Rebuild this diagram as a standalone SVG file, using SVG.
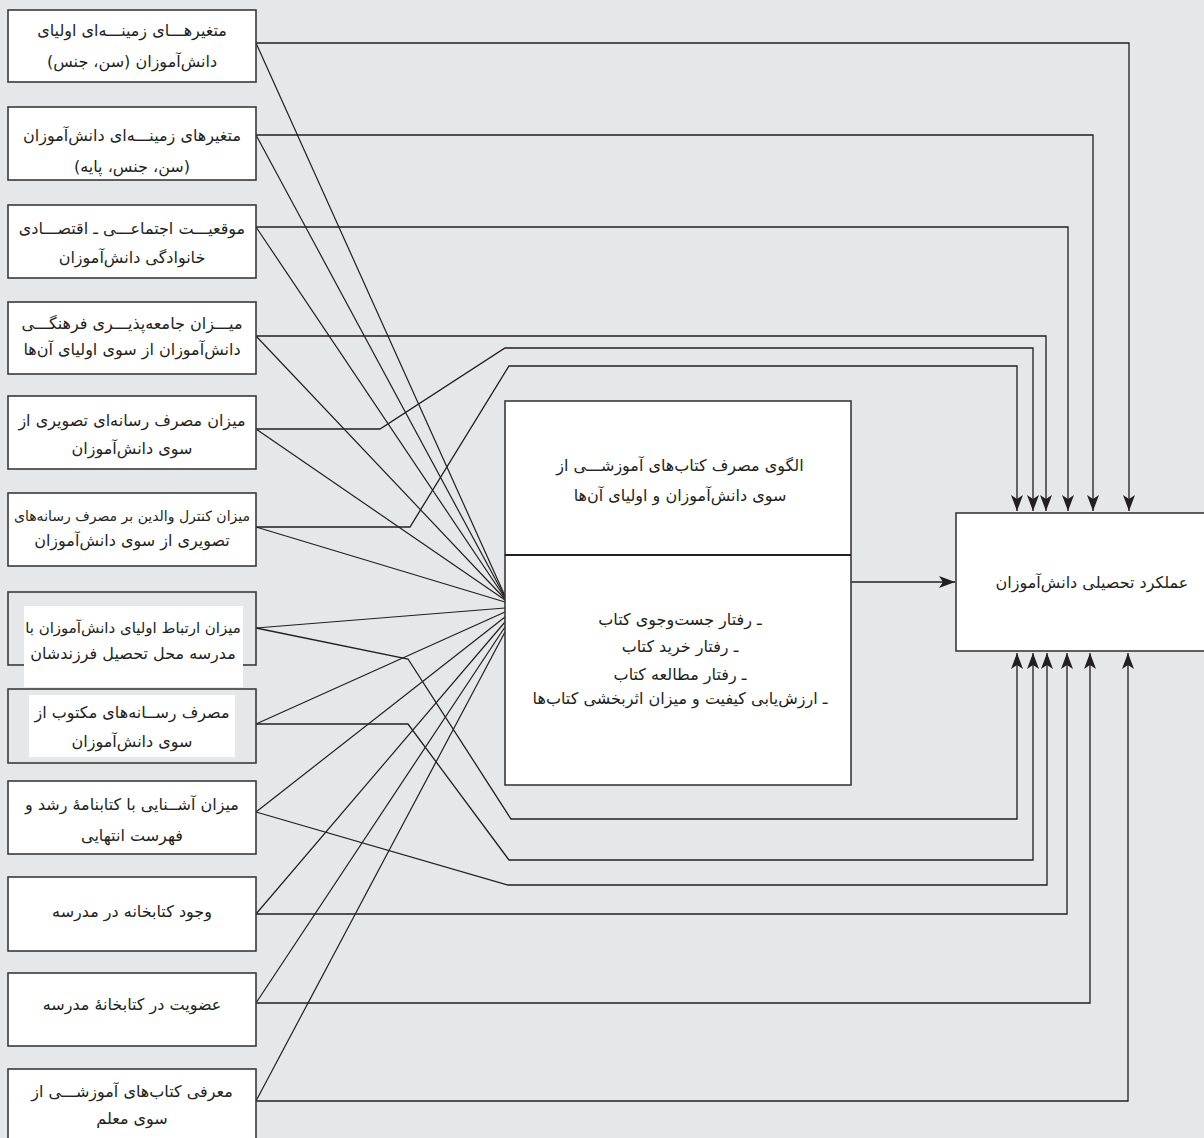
<svg xmlns="http://www.w3.org/2000/svg" width="1204" height="1138" viewBox="0 0 1204 1138">
<style>
.box{fill:#fff;stroke:#3a3a3a;stroke-width:1.6}
.boxg{fill:#e6e7e8;stroke:#3a3a3a;stroke-width:1.6}
.tb{fill:#fff;stroke:none}
.t{font-family:"DejaVu Sans",sans-serif;font-size:16px;fill:#231f20;text-anchor:middle;direction:rtl}
.s15{font-size:15px}
.s14{font-size:14px}
.c{fill:none;stroke:#231f20;stroke-width:1.2}
.a{fill:none;stroke:#231f20;stroke-width:1.3}
</style>
<defs>
<marker id="ah" viewBox="0 0 16 12" refX="16" refY="6" markerWidth="16" markerHeight="12" markerUnits="userSpaceOnUse" orient="auto">
<path d="M0,0 L16,6 L0,12 L4,6 z" fill="#231f20"/>
</marker>
</defs>
<rect x="0" y="0" width="1204" height="1138" fill="#e6e7e8"/>

<g id="connectors">
<path class="c" d="M256,43 L505,596"/>
<path class="c" d="M256,135 L505,597"/>
<path class="c" d="M256,227 L505,598"/>
<path class="c" d="M256,336 L505,599"/>
<path class="c" d="M256,429 L505,600"/>
<path class="c" d="M256,527 L505,602"/>
<path class="c" d="M256,628 L505,608"/>
<path class="c" d="M256,724 L505,612"/>
<path class="c" d="M256,812 L505,617"/>
<path class="c" d="M256,914 L505,622"/>
<path class="c" d="M256,1003 L505,627"/>
<path class="c" d="M256,1101 L505,632"/>

<path class="a" marker-end="url(#ah)" d="M256,43 H1129 V511"/>
<path class="a" marker-end="url(#ah)" d="M256,135 H1093 V511"/>
<path class="a" marker-end="url(#ah)" d="M256,227 H1068 V511"/>
<path class="a" marker-end="url(#ah)" d="M256,336 H1046 V511"/>
<path class="a" marker-end="url(#ah)" d="M256,429 H380 L505,348 H1033 V511"/>
<path class="a" marker-end="url(#ah)" d="M256,527 H410 L509,366 H1017 V511"/>

<path class="a" marker-end="url(#ah)" d="M256,628 L408,659 L511,819 H1017 V653"/>
<path class="a" marker-end="url(#ah)" d="M256,724 H408 L509,860 H1033 V653"/>
<path class="a" marker-end="url(#ah)" d="M256,812 L508,885 H1047 V653"/>
<path class="a" marker-end="url(#ah)" d="M256,914 H1067 V653"/>
<path class="a" marker-end="url(#ah)" d="M256,1003 H1090 V653"/>
<path class="a" marker-end="url(#ah)" d="M256,1101 H1128 V653"/>

<path class="a" stroke-width="1.6" marker-end="url(#ah)" d="M851,582 H955"/>
</g>

<g id="n1"><rect class="box" x="8" y="10" width="248" height="72"/>
<text class="t" x="132" y="36">متغیرهـــای زمینـــه‌ای اولیای</text>
<text class="t" x="132" y="67">دانش‌آموزان (سن، جنس)</text></g>

<g id="n2"><rect class="box" x="8" y="107" width="248" height="73"/>
<text class="t" x="132" y="141">متغیرهای زمینـــه‌ای دانش‌آموزان</text>
<text class="t" x="132" y="172">(سن، جنس، پایه)</text></g>

<g id="n3"><rect class="box" x="8" y="205" width="248" height="73"/>
<text class="t" x="132" y="234">موقعیـــت اجتماعـــی ـ اقتصـــادی</text>
<text class="t" x="132" y="263">خانوادگی دانش‌آموزان</text></g>

<g id="n4"><rect class="box" x="8" y="302" width="248" height="72"/>
<text class="t" x="132" y="329">میـــزان جامعه‌پذیـــری فرهنگـــی</text>
<text class="t" x="132" y="355">دانش‌آموزان از سوی اولیای آن‌ها</text></g>

<g id="n5"><rect class="box" x="8" y="396" width="248" height="73"/>
<text class="t" x="132" y="426">میزان مصرف رسانه‌ای تصویری از</text>
<text class="t" x="132" y="454">سوی دانش‌آموزان</text></g>

<g id="n6"><rect class="box" x="8" y="493" width="248" height="73"/>
<text class="t s14" x="132" y="521">میزان کنترل والدین بر مصرف رسانه‌های</text>
<text class="t" x="132" y="546">تصویری از سوی دانش‌آموزان</text></g>

<g id="n7"><rect class="boxg" x="8" y="592" width="248" height="73"/>
<rect class="tb" x="24" y="606" width="219" height="81"/>
<text class="t s15" x="133" y="633">میزان ارتباط اولیای دانش‌آموزان با</text>
<text class="t" x="133" y="659">مدرسه محل تحصیل فرزندشان</text></g>

<g id="n8"><rect class="boxg" x="8" y="689" width="248" height="74"/>
<rect class="tb" x="29" y="695" width="206" height="62"/>
<text class="t" x="132" y="718">مصرف رســانه‌های مکتوب از</text>
<text class="t" x="132" y="747">سوی دانش‌آموزان</text></g>

<g id="n9"><rect class="box" x="8" y="781" width="248" height="73"/>
<text class="t" x="132" y="810">میزان آشــنایی با کتابنامهٔ رشد و</text>
<text class="t" x="132" y="841">فهرست انتهایی</text></g>

<g id="n10"><rect class="box" x="8" y="877" width="248" height="74"/>
<text class="t" x="132" y="917">وجود کتابخانه در مدرسه</text></g>

<g id="n11"><rect class="box" x="8" y="973" width="248" height="73"/>
<text class="t" x="132" y="1010">عضویت در کتابخانهٔ مدرسه</text></g>

<g id="n12"><rect class="box" x="8" y="1069" width="248" height="100"/>
<text class="t" x="132" y="1097">معرفی کتاب‌های آموزشـــی از</text>
<text class="t" x="132" y="1124">سوی معلم</text></g>

<g id="center"><rect class="box" x="505" y="401" width="346" height="384"/>
<line x1="505" y1="555" x2="851" y2="555" stroke="#231f20" stroke-width="2"/>
<text class="t" x="680" y="471">الگوی مصرف کتاب‌های آموزشـــی از</text>
<text class="t" x="680" y="501">سوی دانش‌آموزان و اولیای آن‌ها</text>
<text class="t" x="680" y="625">ـ رفتار جست‌وجوی کتاب</text>
<text class="t" x="680" y="652">ـ رفتار خرید کتاب</text>
<text class="t" x="680" y="680">ـ رفتار مطالعه کتاب</text>
<text class="t" x="680" y="704">ـ ارزش‌یابی کیفیت و میزان اثربخشی کتاب‌ها</text></g>

<g id="result"><rect class="box" x="956" y="513" width="260" height="138"/>
<text class="t" x="1092" y="588">عملکرد تحصیلی دانش‌آموزان</text></g>
</svg>
